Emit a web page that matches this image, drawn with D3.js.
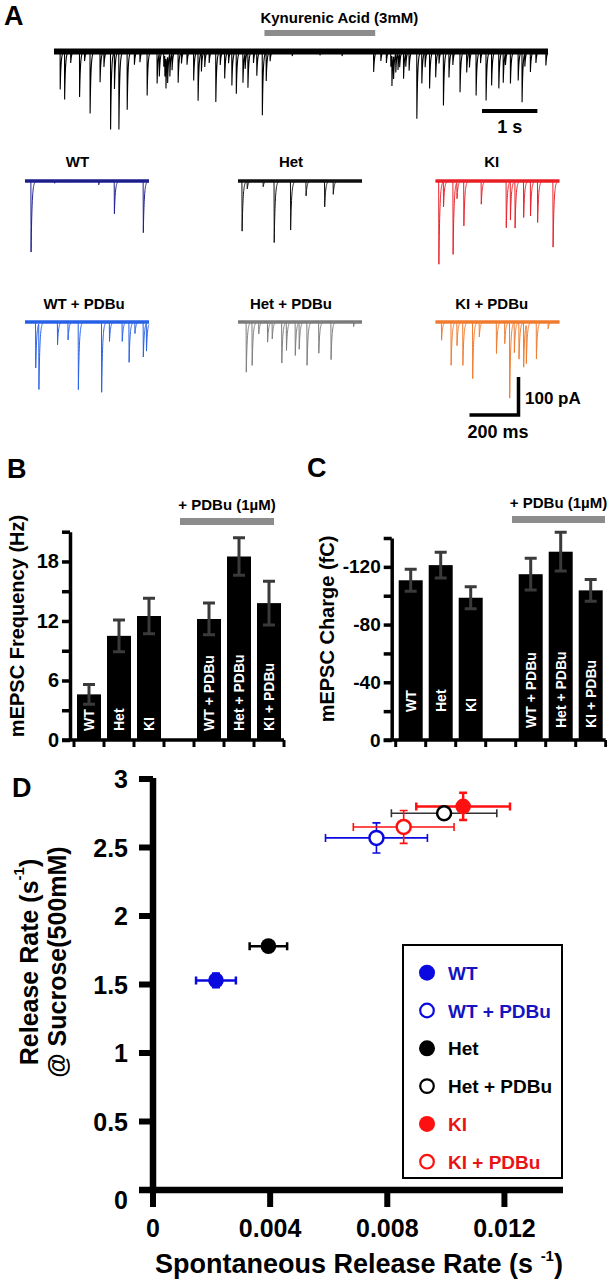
<!DOCTYPE html>
<html><head><meta charset="utf-8">
<script src="https://cdn.jsdelivr.net/npm/d3@7"></script>
<style>
body{margin:0;background:#fff;}
svg{display:block;font-family:"Liberation Sans",Arial,Helvetica,sans-serif;font-weight:bold;}
</style></head><body>
<svg id="fig" width="607" height="1280"></svg>
<script>
// ================= DATA =================
// Panel A – long recording: spontaneous events [time (s), amplitude (pA)]
const mainDuration = 8.92;
const kynurenicWindow = [3.8, 5.8];
const mainEvents = [
 [0.11,-100],[0.19,-126],[0.30,-30],[0.46,-120],[0.55,-25],[0.65,-163],[0.83,-81],[0.90,-40],
 [1.02,-205],[1.09,-97],[1.17,-205],[1.32,-153],[1.45,-35],[1.55,-28],[1.68,-116],[1.86,-84],
 [1.90,-60],[1.98,-40],[2.00,-55],[2.02,-80],[2.05,-70],[2.09,-60],[2.13,-45],
 [2.24,-82],[2.30,-30],[2.40,-35],[2.52,-76],[2.60,-129],[2.66,-50],
 [2.72,-40],[2.80,-30],[2.92,-133],[3.00,-35],[3.08,-71],[3.15,-30],[3.21,-89],[3.29,-111],[3.41,-82],
 [3.45,-40],[3.50,-94],[3.60,-30],[3.66,-63],[3.76,-168],[3.83,-76],[3.90,-25],[4.30,-12],[4.80,-10],
 [5.20,-12],[5.77,-54],[5.90,-25],[6.00,-30],[6.08,-40],[6.10,-80],[6.13,-60],[6.17,-50],[6.21,-45],
 [6.24,-35],[6.31,-71],[6.35,-35],[6.41,-50],[6.55,-177],[6.64,-84],[6.70,-40],
 [6.78,-97],[6.89,-68],[6.95,-30],[7.03,-142],[7.13,-68],[7.20,-35],[7.33,-107],[7.45,-55],[7.50,-40],
 [7.62,-116],[7.70,-30],[7.80,-129],[7.90,-89],[8.03,-97],[8.11,-82],[8.15,-30],[8.24,-84],[8.38,-76],
 [8.45,-133],[8.50,-35],[8.60,-54],[8.70,-30],[8.88,-37]
];

// Panel A – example sweeps: events [time (ms), amplitude (pA)]
const sweepDuration = 506;
const sweepNames  = ["WT","Het","KI","WT + PDBu","Het + PDBu","KI + PDBu"];
const sweepColors = ["#20208e","#111111","#e8222a","#2a62e6","#7e7e7e","#f07c30"];
const wtEvents = [[24,-187],[364,-86],[482,-136],[300,-10],[120,-6]];
const hetEvents = [[16,-132],[37,-20],[102,-15],[147,-162],[214,-129],[277,-39],[353,-68],[388,-35]];
const kiEvents = [[13,-219],[32,-66],[71,-193],[87,-43],[115,-118],[186,-61],[288,-123],[305,-101],
 [324,-123],[359,-96],[387,-92],[416,-109],[479,-174]];
const wtPdbuEvents = [[43,-121],[56,-173],[132,-60],[175,-47],[217,-178],[312,-185],[344,-51],[396,-51],
 [424,-106],[448,-30],[482,-92],[495,-73]];
const hetPdbuEvents = [[33,-132],[57,-114],[84,-31],[120,-53],[139,-44],[178,-108],[197,-74],[233,-88],
 [249,-70],[281,-114],[329,-82],[379,-99],[471,-12]];
const kiPdbuEvents = [[24,-48],[63,-114],[87,-62],[111,-114],[151,-149],[178,-39],[248,-83],[282,-57],
 [302,-200],[321,-79],[340,-97],[359,-118],[370,-102],[411,-97],[459,-18]];
const sweepEvents = [wtEvents, hetEvents, kiEvents, wtPdbuEvents, hetPdbuEvents, kiPdbuEvents];

// Panels B & C – bar charts
const barCategories = ["WT","Het","KI","WT + PDBu","Het + PDBu","KI + PDBu"];
const freqMeans = [4.6, 10.5, 12.5, 12.2, 18.5, 13.8];       // Hz
const freqErrs  = [1.0, 1.6, 1.8, 1.6, 1.9, 2.2];
const chargeMeans = [-110.7, -121.2, -98.6, -114.9, -130.5, -103.7]; // fC
const chargeErrs  = [7.6, 9.0, 7.6, 11.0, 13.4, 7.5];
const freqTicks = [0,3,6,9,12,15,18,21];
const freqTickLabels = [0,6,12,18];
const chargeTicks = [0,-20,-40,-60,-80,-100,-120,-140];
const chargeTickLabels = [0,-40,-80,-120];

// Panel D – scatter with x/y error bars
const groups = ["WT","WT + PDBu","Het","Het + PDBu","KI","KI + PDBu"];
const spontRate = [0.00215, 0.00763, 0.00394, 0.00994, 0.01059, 0.00856];
const spontErr  = [0.00068, 0.00174, 0.00064, 0.00180, 0.00160, 0.00172];
const sucroseRate = [1.53, 2.57, 1.78, 2.75, 2.80, 2.65];
const sucroseErr  = [0.05, 0.11, 0.03, 0.03, 0.10, 0.12];
const groupFilled = [true, false, true, false, true, false];
const groupColors = ["#0a0ae0","#0a0ae0","#000000","#000000","#ff1010","#ff1010"];
const groupTextColors = ["#1414c0","#1414c0","#000000","#000000","#e81414","#e81414"];
const dXTicks = [0, 0.004, 0.008, 0.012];
const dXTickLabels = ["0","0.004","0.008","0.012"];
const dYTicks = [0, 0.5, 1, 1.5, 2, 2.5, 3];
const dYTickLabels = ["0","0.5","1","1.5","2","2.5","3"];

// ================= DRAWING =================
const svg = d3.select("#fig");

function txt(g, s, x, y, size, opts = {}) {
  return g.append("text").attr("x", x).attr("y", y).attr("font-size", size)
    .attr("text-anchor", opts.anchor || "start").attr("fill", opts.fill || "#000").text(s);
}

// panel letters
txt(svg, "A", 4, 25, 27);
txt(svg, "B", 7, 478, 27);
txt(svg, "C", 307, 477, 27);
txt(svg, "D", 12, 797, 27);

// trace builder: sums events (fast rise, exponential decay)
function buildTrace(events, t1, step, rise, tau) {
  let ts = d3.range(0, t1, step);
  events.forEach(([t]) => ts.push(t, t + rise));
  ts = ts.filter(t => t >= 0 && t <= t1).sort((a, b) => a - b);
  return ts.map(t => {
    let v = 0;
    for (const [te, a] of events) {
      const dt = t - te;
      if (dt < 0) continue;
      v += dt < rise ? a * dt / rise : a * Math.exp(-(dt - rise) / tau);
    }
    return [t, v];
  });
}

// ---- Panel A main trace ----
const xMain = d3.scaleLinear().domain([0, mainDuration]).range([54, 548]);
const yMain = d3.scaleLinear().domain([0, -100]).range([51.5, 89.5]);
const gA = svg.append("g");
gA.append("rect").attr("x", xMain(kynurenicWindow[0])).attr("y", 30)
  .attr("width", xMain(kynurenicWindow[1]) - xMain(kynurenicWindow[0])).attr("height", 6).attr("fill", "#8c8c8c");
txt(gA, "Kynurenic Acid (3mM)", xMain(kynurenicWindow[0]) - 4, 23, 15);
gA.append("line").attr("x1", xMain(0)).attr("x2", xMain(mainDuration))
  .attr("y1", yMain(0)).attr("y2", yMain(0)).attr("stroke", "#000").attr("stroke-width", 6);
gA.append("path").datum(buildTrace(mainEvents, mainDuration, 0.004, 0.002, 0.015))
  .attr("d", d3.line().x(d => xMain(d[0])).y(d => yMain(d[1])))
  .attr("fill", "none").attr("stroke", "#000").attr("stroke-width", 1.1);
// 1 s scale bar
gA.append("line").attr("x1", 482).attr("x2", 482 + (xMain(1) - xMain(0))).attr("y1", 111).attr("y2", 111)
  .attr("stroke", "#000").attr("stroke-width", 4);
txt(gA, "1 s", 482 + (xMain(1) - xMain(0)) / 2, 133, 18, {anchor: "middle"});

// ---- Panel A sweeps ----
const colX = [25, 238, 435.5];
const rowBase = [181, 322];
const labelX = [[77.5, 291, 491.7], [84, 291, 491.7]];
const labelY = [167, 309];
sweepNames.forEach((name, i) => {
  const r = Math.floor(i / 3), c = i % 3;
  const xs = d3.scaleLinear().domain([0, sweepDuration]).range([colX[c], colX[c] + 124]);
  const ys = d3.scaleLinear().domain([0, -100]).range([rowBase[r], rowBase[r] + 38]);
  const g = svg.append("g");
  txt(g, name, labelX[r][c], labelY[r], 15, {anchor: "middle"});
  g.append("line").attr("x1", xs(0)).attr("x2", xs(sweepDuration)).attr("y1", ys(0)).attr("y2", ys(0))
    .attr("stroke", sweepColors[i]).attr("stroke-width", 3.5);
  g.append("path").datum(buildTrace(sweepEvents[i], sweepDuration, 0.5, 0.8, 4))
    .attr("d", d3.line().x(d => xs(d[0])).y(d => ys(d[1])))
    .attr("fill", "none").attr("stroke", sweepColors[i]).attr("stroke-width", 1);
});
// sweep scale bars (100 pA, 200 ms)
const sbX = 518.5, sbY = 415;
svg.append("path").attr("d", `M${sbX - 49},${sbY} H${sbX} V${sbY - 38}`)
  .attr("fill", "none").attr("stroke", "#000").attr("stroke-width", 3.5);
txt(svg, "100 pA", 525, 404, 17);
txt(svg, "200 ms", 498, 438, 18, {anchor: "middle"});

// ---- Panels B & C ----
function barPanel(o) {
  const g = svg.append("g");
  const band = d3.scaleBand().domain(["WT","Het","KI","gap","WT + PDBu","Het + PDBu","KI + PDBu"])
    .range(o.bandRange).paddingInner(0.2).paddingOuter(0.1);
  const edge = d3.scaleLinear().domain([0, 7]).range(o.bandRange);
  const y = o.y;
  barCategories.forEach((cat, i) => {
    g.append("rect").attr("x", band(cat)).attr("width", band.bandwidth())
      .attr("y", y(o.means[i])).attr("height", y(0) - y(o.means[i])).attr("fill", "#000");
  });
  barCategories.forEach((cat, i) => {
    const cx = band(cat) + band.bandwidth() / 2;
    const m = o.means[i], e = o.errs[i] * Math.sign(m);
    const y1 = y(m + e), y2 = y(m - e);
    g.append("path").attr("d", `M${cx},${y1}V${y2}M${cx - 6},${y1}H${cx + 6}M${cx - 6},${y2}H${cx + 6}`)
      .attr("stroke", "#3a3a3a").attr("stroke-width", 3).attr("fill", "none");
  });
  barCategories.forEach((cat, i) => {
    const cx = band(cat) + band.bandwidth() / 2;
    const yb = o.labelBase(cat);
    g.append("text").attr("transform", `translate(${cx + 5},${yb}) rotate(-90)`)
      .attr("font-size", 14).attr("fill", "#fff").text(cat);
  });
  const ax = g.append("g").attr("transform", `translate(${o.axisX},0)`)
    .call(d3.axisLeft(y).tickValues(o.ticks).tickSize(8).tickSizeOuter(0).tickPadding(3)
      .tickFormat(d => o.labels.includes(d) ? String(d) : ""));
  ax.select(".domain").attr("stroke-width", 3.5).attr("stroke", "#000");
  ax.selectAll(".tick line").attr("stroke-width", 3.5).attr("stroke", "#000");
  ax.selectAll(".tick text").attr("font-size", o.tickSize).attr("font-family", null).attr("fill", "#000");
  g.append("line").attr("x1", o.axisX - 8).attr("x2", o.bandRange[1]).attr("y1", y(0)).attr("y2", y(0))
    .attr("stroke", "#000").attr("stroke-width", 3.5);
  d3.range(8).forEach(k => {
    g.append("line").attr("x1", edge(k)).attr("x2", edge(k)).attr("y1", y(0)).attr("y2", y(0) + 7)
      .attr("stroke", "#000").attr("stroke-width", 3);
  });
  g.append("text").attr("transform", `translate(${o.titleX},${o.titleY}) rotate(-90)`)
    .attr("text-anchor", "middle").attr("font-size", 20).text(o.title);
  g.append("rect").attr("x", o.bracket[0]).attr("y", o.bracketY).attr("width", o.bracket[1] - o.bracket[0])
    .attr("height", 7).attr("fill", "#8c8c8c");
  txt(g, "+ PDBu (1µM)", (o.bracket[0] + o.bracket[1]) / 2, o.bracketY - 8, 15, {anchor: "middle"});
}

barPanel({
  bandRange: [74, 284], y: d3.scaleLinear().domain([0, 21]).range([740, 531.7]),
  means: freqMeans, errs: freqErrs, ticks: freqTicks, labels: freqTickLabels,
  axisX: 70, tickSize: 20, title: "mEPSC Frequency (Hz)", titleX: 24, titleY: 626,
  bracket: [180, 274], bracketY: 518, labelBase: () => 731
});
barPanel({
  bandRange: [395.7, 605.7], y: d3.scaleLinear().domain([0, -140]).range([740, 538]),
  means: chargeMeans, errs: chargeErrs, ticks: chargeTicks, labels: chargeTickLabels,
  axisX: 391.7, tickSize: 19, title: "mEPSC Charge (fC)", titleX: 334, titleY: 629,
  bracket: [512, 605], bracketY: 516, labelBase: c => c.includes("PDBu") ? 728 : 712
});

// ---- Panel D ----
const gD = svg.append("g");
const xD = d3.scaleLinear().domain([0, 0.014]).range([153, 563]);
const yD = d3.scaleLinear().domain([0, 3]).range([1190, 779]);
gD.append("line").attr("x1", xD(0)).attr("x2", xD(0)).attr("y1", yD(0)).attr("y2", yD(3) - 1)
  .attr("stroke", "#000").attr("stroke-width", 6.5);
gD.append("line").attr("x1", 139).attr("x2", xD(0.014)).attr("y1", yD(0)).attr("y2", yD(0))
  .attr("stroke", "#000").attr("stroke-width", 6.5);
dYTicks.forEach((v, i) => {
  gD.append("line").attr("x1", 139).attr("x2", xD(0)).attr("y1", yD(v)).attr("y2", yD(v))
    .attr("stroke", "#000").attr("stroke-width", 6);
  txt(gD, dYTickLabels[i], 128, yD(v) + 9 + (v === 0 ? 10 : 0), 25, {anchor: "end"});
});
dXTicks.forEach((v, i) => {
  gD.append("line").attr("x1", xD(v)).attr("x2", xD(v)).attr("y1", yD(0)).attr("y2", yD(0) + 17)
    .attr("stroke", "#000").attr("stroke-width", 6);
  txt(gD, dXTickLabels[i], xD(v), 1237, 25, {anchor: "middle"});
});
const xt = gD.append("text").attr("x", 155).attr("y", 1273).attr("font-size", 27);
xt.append("tspan").text("Spontaneous Release Rate (s ");
xt.append("tspan").attr("font-size", 15).attr("dy", -12).text("-1");
xt.append("tspan").attr("dy", 12).text(")");
const yt1 = gD.append("text").attr("transform", "translate(38,962) rotate(-90)")
  .attr("text-anchor", "middle").attr("font-size", 25);
yt1.append("tspan").text("Release Rate (s");
yt1.append("tspan").attr("font-size", 15).attr("dy", -14).text("-1");
yt1.append("tspan").attr("dy", 14).text(")");
gD.append("text").attr("transform", "translate(66,962) rotate(-90)")
  .attr("text-anchor", "middle").attr("font-size", 25).text("@ Sucrose(500mM)");
groups.forEach((gname, i) => {
  const cx = xD(spontRate[i]), cy = yD(sucroseRate[i]);
  const xl = xD(spontRate[i] - spontErr[i]), xr = xD(spontRate[i] + spontErr[i]);
  const yt = yD(sucroseRate[i] + sucroseErr[i]), yb = yD(sucroseRate[i] - sucroseErr[i]);
  const col = gname === "Het + PDBu" ? "#333" : groupColors[i];
  gD.append("path")
    .attr("d", `M${xl},${cy}H${xr}M${xl},${cy - 4}V${cy + 4}M${xr},${cy - 4}V${cy + 4}` +
               `M${cx},${yt}V${yb}M${cx - 4},${yt}H${cx + 4}M${cx - 4},${yb}H${cx + 4}`)
    .attr("stroke", col).attr("stroke-width", groupFilled[i] ? 2.5 : 1.6).attr("fill", "none");
});
groups.forEach((gname, i) => {
  gD.append("circle").attr("cx", xD(spontRate[i])).attr("cy", yD(sucroseRate[i]))
    .attr("r", groupFilled[i] ? 7.8 : 7)
    .attr("fill", groupFilled[i] ? groupColors[i] : "#fff")
    .attr("stroke", groupColors[i]).attr("stroke-width", groupFilled[i] ? 0 : 2.5);
});
gD.append("rect").attr("x", 403).attr("y", 945).attr("width", 159).attr("height", 233)
  .attr("fill", "#fff").attr("stroke", "#000").attr("stroke-width", 2);
groups.forEach((gname, i) => {
  const ly = 972.7 + 37.8 * i;
  gD.append("circle").attr("cx", 427).attr("cy", ly).attr("r", groupFilled[i] ? 8 : 6.8)
    .attr("fill", groupFilled[i] ? groupColors[i] : "#fff")
    .attr("stroke", groupColors[i]).attr("stroke-width", groupFilled[i] ? 0 : 2.2);
  txt(gD, gname, 448, ly + 7, 19, {fill: groupTextColors[i]});
});
</script>
</body></html>
